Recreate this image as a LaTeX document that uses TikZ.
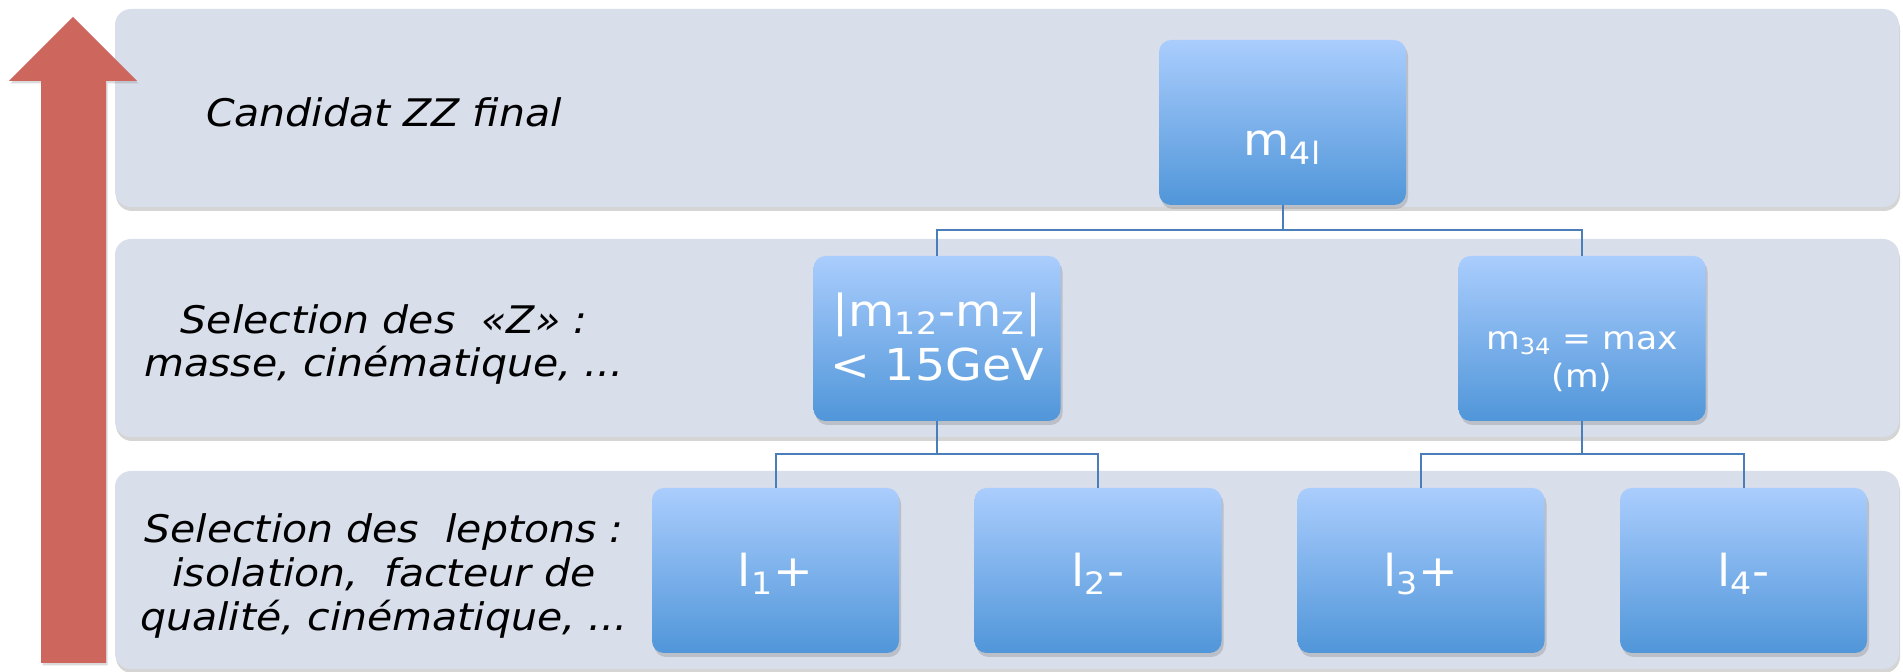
\documentclass[tikz,border=0pt]{standalone}
\usepackage{fontspec}
\newfontfamily\handfont{DejaVu Sans}[FakeStretch=1.08]
\usetikzlibrary{shadows}

\definecolor{bandfill}{RGB}{217,222,235}
\definecolor{boxtop}{RGB}{170,205,253}
\definecolor{boxbot}{RGB}{80,150,217}
\definecolor{linkblue}{RGB}{74,126,187}
\definecolor{arrowred}{RGB}{205,102,92}

% lower a (possibly multi-line) label inside its box without changing the box size
\newcommand{\sinkby}[2]{\raisebox{-#1}[\height][\depth]{\begin{tabular}{@{}c@{}}#2\end{tabular}}}

\begin{document}
\begin{tikzpicture}[x=0.5pt,y=-0.5pt,
  band/.style={fill=bandfill, rounded corners=8pt,
    drop shadow={shadow xshift=0.5pt, shadow yshift=-2pt, opacity=0.33}},
  stepbox/.style={rectangle, rounded corners=6pt,
    minimum width=123.5pt, minimum height=82.5pt, inner sep=2pt,
    top color=boxtop, bottom color=boxbot,
    drop shadow={shadow xshift=1pt, shadow yshift=-2pt, opacity=0.33},
    text=white, align=center,
    font=\handfont\fontsize{22}{27}\selectfont},
  caption/.style={align=center, text=black, inner sep=0pt,
    font=\handfont\itshape\fontsize{19}{21.5}\selectfont},
  link/.style={draw=linkblue, line width=1pt}
]
\useasboundingbox (0,0) rectangle (1903,672);
\fill[white] (0,0) rectangle (1903,672);

% three horizontal levels
\path[band] (115,9)   rectangle (1899,207);
\path[band] (115,239) rectangle (1899,437);
\path[band] (115,471) rectangle (1899,669);

% upward arrow on the left
\fill[arrowred, drop shadow={shadow xshift=0.8pt, shadow yshift=-1.2pt, opacity=0.28}]
  (73,17) -- (137,81) -- (106,81) -- (106,663) -- (41,663) -- (41,81) -- (9,81) -- cycle;

% level captions
\node[caption] (capTop) at (384,112) {Candidat ZZ final};
\node[caption] (capMid) at (384,344) {Selection des~ «Z» :\\masse, cinématique, ...};
\node[caption, font=\handfont\itshape\fontsize{19}{22}\selectfont] (capBot) at (384,576)
  {Selection des~~leptons :\\isolation,~ facteur de\\qualité, cinématique, ...};

% boxes
\node[stepbox] (m4l) at (1282.5,122.5) {\sinkby{11pt}{m\textsubscript{4l}}};
\node[stepbox] (z12) at (937,338.5) {\sinkby{2pt}{|m\textsubscript{12}-m\textsubscript{Z}|\\< 15GeV}};
\node[stepbox, font=\handfont\fontsize{16}{19}\selectfont] (z34) at (1582,338.5)
  {\sinkby{11pt}{m\textsubscript{34} = max\\(m)}};
\node[stepbox] (l1) at (775.5,570.5) {\sinkby{2.5pt}{l\textsubscript{1}+}};
\node[stepbox] (l2) at (1098,570.5)  {\sinkby{2.5pt}{l\textsubscript{2}-}};
\node[stepbox] (l3) at (1421,570.5)  {\sinkby{2.5pt}{l\textsubscript{3}+}};
\node[stepbox] (l4) at (1743.5,570.5) {\sinkby{2.5pt}{l\textsubscript{4}-}};

% tree connectors
\draw[link] (m4l.south) -- ++(0,25) -| (z12.north);
\draw[link] (m4l.south) -- ++(0,25) -| (z34.north);
\draw[link] (z12.south) -- ++(0,33) -| (l1.north);
\draw[link] (z12.south) -- ++(0,33) -| (l2.north);
\draw[link] (z34.south) -- ++(0,33) -| (l3.north);
\draw[link] (z34.south) -- ++(0,33) -| (l4.north);
\end{tikzpicture}
\end{document}
